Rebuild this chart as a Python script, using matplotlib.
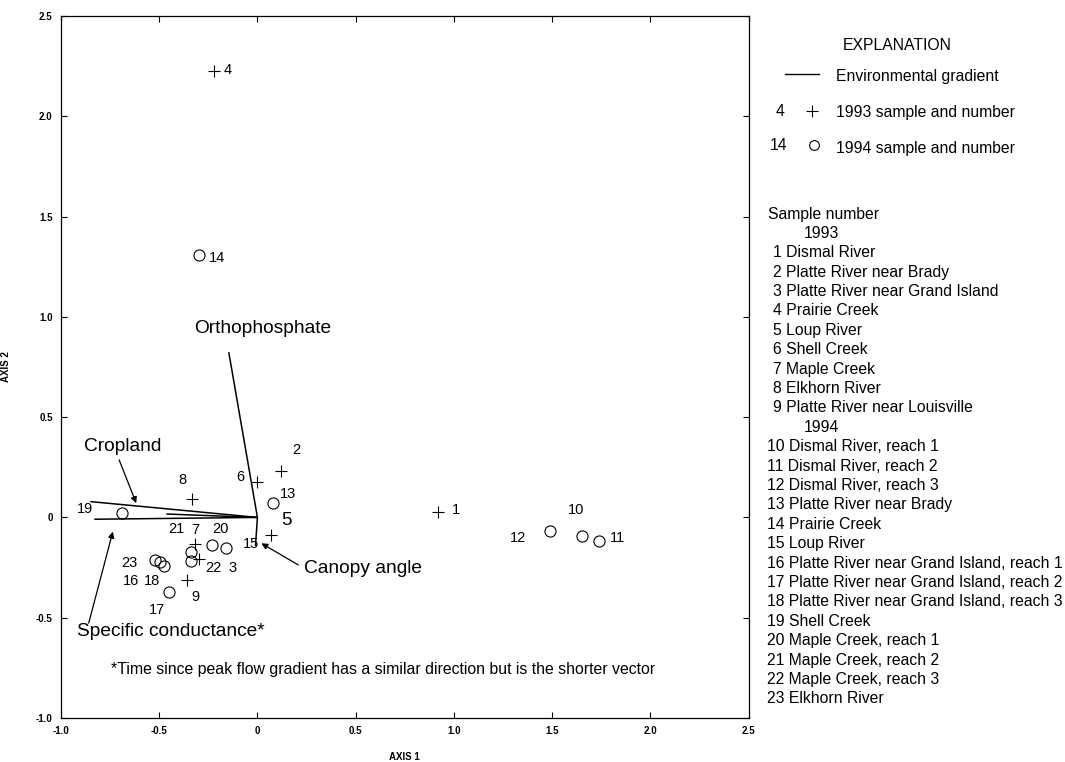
import matplotlib
matplotlib.use("Agg")
import matplotlib.pyplot as plt

plt.rcParams['font.family'] = ['Liberation Sans', 'DejaVu Sans']
plt.rcParams['axes.unicode_minus'] = False

# ---------------- data ----------------
# 1993 samples (plotted as +)
s93_num = [1, 2, 3, 4, 5, 6, 7, 8, 9]
s93_ax1 = [0.917, 0.119, -0.297, -0.220, 0.068, -0.002, -0.316, -0.332, -0.357]
s93_ax2 = [0.026, 0.231, -0.206, 2.226, -0.086, 0.176, -0.131, 0.093, -0.310]

# 1994 samples (plotted as o)
s94_num = [10, 11, 12, 13, 14, 15, 16, 17, 18, 19, 20, 21, 22, 23]
s94_ax1 = [1.653, 1.738, 1.491, 0.080, -0.300, -0.162, -0.498, -0.448, -0.476,
           -0.689, -0.231, -0.340, -0.337, -0.524]
s94_ax2 = [-0.093, -0.120, -0.070, 0.071, 1.309, -0.151, -0.223, -0.372, -0.244,
           0.023, -0.138, -0.173, -0.215, -0.211]

# environmental gradient vectors (end points, start at origin)
grad_names = ['Orthophosphate', 'Cropland', 'Specific conductance',
              'Time since peak flow', 'Canopy angle']
grad_ax1 = [-0.146, -0.851, -0.830, -0.464, -0.010]
grad_ax2 = [0.824, 0.079, -0.009, 0.017, -0.142]

# sample names
names_1993 = ['Dismal River', 'Platte River near Brady', 'Platte River near Grand Island',
              'Prairie Creek', 'Loup River', 'Shell Creek', 'Maple Creek',
              'Elkhorn River', 'Platte River near Louisville']
names_1994 = ['Dismal River, reach 1', 'Dismal River, reach 2', 'Dismal River, reach 3',
              'Platte River near Brady', 'Prairie Creek', 'Loup River',
              'Platte River near Grand Island, reach 1',
              'Platte River near Grand Island, reach 2',
              'Platte River near Grand Island, reach 3',
              'Shell Creek', 'Maple Creek, reach 1', 'Maple Creek, reach 2',
              'Maple Creek, reach 3', 'Elkhorn River']

tick_vals = [-1.0, -0.5, 0.0, 0.5, 1.0, 1.5, 2.0, 2.5]
tick_labels = ['-1.0', '-0.5', '0', '0.5', '1.0', '1.5', '2.0', '2.5']

# ---------------- layout (label offsets in pixels) ----------------
label_off = {1: (18, 2), 2: (16, 21), 3: (33, -9), 4: (13, 1), 5: (16, 14),
             6: (-17, 5), 7: (0, 14), 8: (-10, 19), 9: (8, -17),
             10: (-6, 26), 11: (19, 3), 12: (-32, -7), 13: (15, 9), 14: (18, -3),
             15: (25, 4), 16: (-29, -19), 17: (-12, -18), 18: (-12, -15),
             19: (-37, 4), 20: (8, 16), 21: (-14, 23), 22: (22, -7), 23: (-25, -3)}
label_size = {5: 13.5}

W, H = 1065, 762
fig = plt.figure(figsize=(W / 100, H / 100), dpi=100)
ax = fig.add_axes([61 / W, 1 - 718 / H, (748.5 - 61) / W, (718 - 16) / H])
ax.set_xlim(-1.0, 2.5)
ax.set_ylim(-1.0, 2.5)

for s in ax.spines.values():
    s.set_linewidth(0.9)
ax.set_xticks(tick_vals)
ax.set_xticklabels(tick_labels, fontweight='bold')
ax.set_yticks(tick_vals)
ax.set_yticklabels(tick_labels, fontweight='bold')
ax.tick_params(direction='in', top=True, right=True, length=4, width=0.8,
               labelsize=7.0, pad=6)
ax.set_xlabel('AXIS 1', fontsize=7.0, labelpad=11, fontweight='bold')
ax.set_ylabel('AXIS 2', fontsize=7.0, labelpad=18, fontweight='bold')

# gradient vectors
for gx, gy in zip(grad_ax1, grad_ax2):
    ax.plot([0, gx], [0, gy], color='black', lw=1.1, solid_capstyle='butt', zorder=2)

# samples
ax.plot(s93_ax1, s93_ax2, linestyle='none', marker='+', ms=9, mew=0.8,
        color='black', zorder=3)
ax.plot(s94_ax1, s94_ax2, linestyle='none', marker='o', ms=8, mew=0.8,
        mfc='none', mec='black', zorder=3)

for n, x, y in list(zip(s93_num, s93_ax1, s93_ax2)) + list(zip(s94_num, s94_ax1, s94_ax2)):
    ax.annotate(str(n), (x, y), xytext=label_off[n], textcoords='offset pixels',
                ha='center', va='center', fontsize=label_size.get(n, 10.5))

# gradient labels
gfs = 13.8
ax.text(-0.321, 0.942, 'Orthophosphate', fontsize=gfs, ha='left', va='center')
ax.text(-0.883, 0.355, 'Cropland', fontsize=gfs, ha='left', va='center')
ax.text(-0.918, -0.567, 'Specific conductance*', fontsize=gfs, ha='left', va='center')
ax.text(0.235, -0.253, 'Canopy angle', fontsize=gfs, ha='left', va='center')

arrow_kw = dict(arrowstyle='-|>', color='black', lw=0.9, mutation_scale=9,
                shrinkA=0, shrinkB=0)
ax.annotate('', xy=(-0.617, 0.071), xytext=(-0.704, 0.287), arrowprops=arrow_kw)
ax.annotate('', xy=(-0.736, -0.071), xytext=(-0.859, -0.527), arrowprops=arrow_kw)
ax.annotate('', xy=(0.020, -0.129), xytext=(0.208, -0.237), arrowprops=arrow_kw)

ax.text(-0.745, -0.760,
        '*Time since peak flow gradient has a similar direction but is the shorter vector',
        fontsize=11.4, ha='left', va='center')

# ---------------- explanation (pixel overlay) ----------------
ov = fig.add_axes([0, 0, 1, 1])
ov.set_xlim(0, W)
ov.set_ylim(H, 0)
ov.axis('off')
ov.patch.set_alpha(0)

efs = 11.3
ov.text(843, 45, 'EXPLANATION', fontsize=efs, ha='left', va='center')
ov.plot([785, 819], [74, 74], color='black', lw=1.0)
ov.text(836, 77, 'Environmental gradient', fontsize=efs, ha='left', va='center')
ov.text(780, 111, '4', fontsize=efs, ha='center', va='center')
ov.plot([812], [111], marker='+', ms=9, mew=0.8, color='black')
ov.text(836, 113, '1993 sample and number', fontsize=efs, ha='left', va='center')
ov.text(779, 146, '14', fontsize=efs, ha='center', va='center')
ov.plot([814], [145], marker='o', ms=7, mew=0.8, mfc='none', mec='black')
ov.text(836, 148, '1994 sample and number', fontsize=efs, ha='left', va='center')

step = 19.4
y = 214
ov.text(768, y, 'Sample number', fontsize=efs, ha='left', va='center')
y += step
ov.text(804, y, '1993', fontsize=efs, ha='left', va='center')
for n, nm in zip(s93_num, names_1993):
    y += step
    ov.text(773 if n < 10 else 767, y, f'{n} {nm}', fontsize=efs, ha='left', va='center')
y += step
ov.text(804, y, '1994', fontsize=efs, ha='left', va='center')
for n, nm in zip(s94_num, names_1994):
    y += step
    ov.text(773 if n < 10 else 767, y, f'{n} {nm}', fontsize=efs, ha='left', va='center')

fig.savefig('out.png', dpi=100)
